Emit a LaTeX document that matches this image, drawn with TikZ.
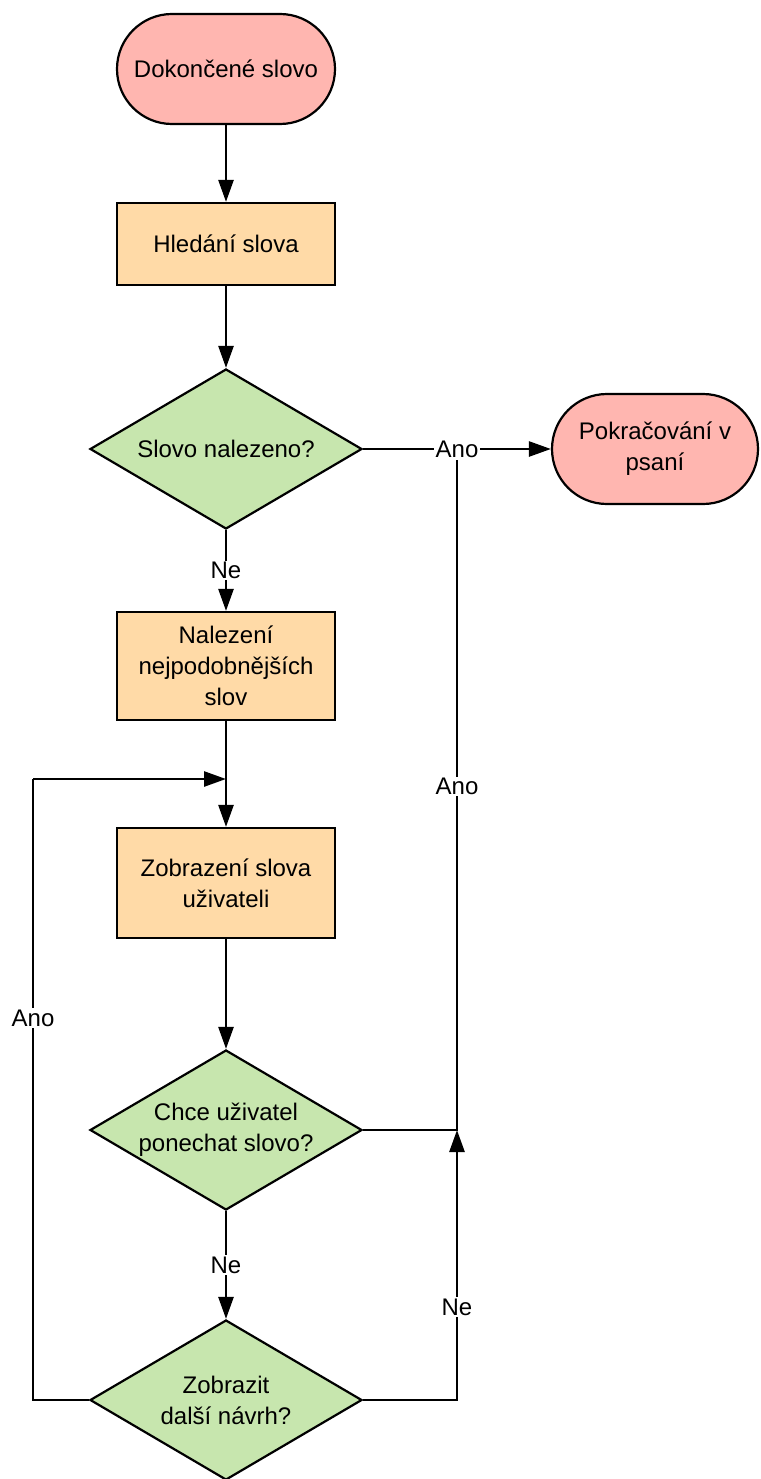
\documentclass[tikz,border=0pt]{standalone}
\usepackage{fontspec}
\setmainfont{Liberation Sans}
\usetikzlibrary{shapes.geometric,arrows.meta}
\definecolor{termc}{RGB}{255,182,176}
\definecolor{procc}{RGB}{255,218,167}
\definecolor{decc}{RGB}{199,230,174}
\begin{document}
\begin{tikzpicture}[x=1pt,y=-1pt,
  every node/.style={font=\fontsize{24}{31}\selectfont, align=center},
  term/.style={draw, line width=2.2pt, fill=termc, rounded corners=55pt, minimum width=218pt, minimum height=110pt, inner sep=0pt},
  proc/.style={draw, line width=2.2pt, fill=procc, minimum width=218pt, inner sep=0pt},
  dec/.style={draw, line width=2.2pt, fill=decc, shape=diamond, aspect=1.7, minimum width=272pt, minimum height=160pt, inner sep=0pt},
  conn/.style={line width=2.6pt},
  arr/.style={conn, -{Triangle[length=22pt,width=15pt]}},
  lbl/.style={fill=white, inner sep=1.5pt}]
\useasboundingbox (0,0) rectangle (760,1479);

\node[term] (start) at (226,69) {Dokončené slovo};
\node[proc, minimum height=82pt] (hled) at (226,244) {Hledání slova};
\node[dec] (d1) at (226,449) {Slovo nalezeno?};
\node[term, minimum width=206pt] (pokr) at (655,449) {Pokračování v\\psaní};
\node[proc, minimum height=108pt] (naj) at (226,666) {Nalezení\\nejpodobnějších\\slov};
\node[proc, minimum height=110pt] (zobr) at (226,883) {Zobrazení slova\\uživateli};
\node[dec] (d2) at (226,1130) {Chce uživatel\\ponechat slovo?};
\node[dec] (d3) at (226,1400) {Zobrazit\\další návrh?};

\coordinate (join) at (226,779);
\coordinate (lc) at (33,779);

\draw[arr] (start) -- (hled);
\draw[arr] (hled) -- (d1);
\draw[arr] (d1.east) -- node[lbl] (anolbl) {Ano} (pokr.west);
\draw[arr] (d1.south) -- node[lbl] {Ne} (naj.north);
\draw[arr] (naj) -- (zobr);
\draw[arr] (zobr) -- (d2);
\draw[arr] (d2.south) -- node[lbl] {Ne} (d3.north);

\coordinate (jr) at (anolbl.south |- d2.east);
\draw[conn] (d2.east) -- (jr) -- node[lbl, pos=0.513] {Ano} (anolbl.south);
\draw[arr] (d3.east) -| node[lbl, pos=0.672] {Ne} (jr);
\draw[conn] (d3.west) -- (d3.west -| lc) -- node[lbl, pos=0.615] {Ano} (lc);
\draw[arr] (lc) -- (join);
\end{tikzpicture}
\end{document}
